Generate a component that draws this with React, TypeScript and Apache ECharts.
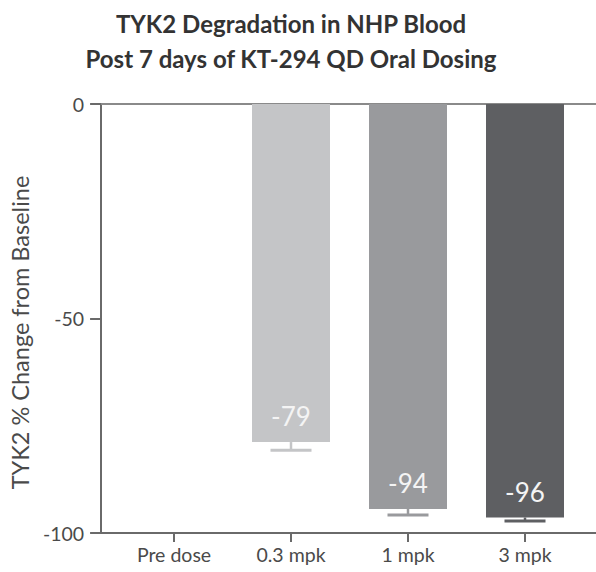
import React, { useEffect, useRef } from "react";
import * as echarts from "echarts";

const categories = ["Pre dose", "0.3 mpk", "1 mpk", "3 mpk"];
const meanChange = [null, -78.8, -94.4, -96.4];
const errorLow = [null, -80.7, -95.8, -97.2];
const barColors = ["#c4c5c7", "#c4c5c7", "#999a9d", "#5e5f62"];
const yTicks = [-100, -50, 0];

const FONT = "Lato, 'Open Sans', sans-serif";

export default function App() {
  const ref = useRef<HTMLDivElement>(null);
  useEffect(() => {
    document.body.style.margin = "0";
    const chart = echarts.init(ref.current!, null, { renderer: "svg" });
    const axisColor = "#6a6a6a";
    const errData = categories
      .map((c, i) => [i, meanChange[i], errorLow[i]])
      .filter((d) => d[1] !== null);
    chart.setOption({
      animation: false,
      backgroundColor: "#ffffff",
      title: {
        text: "TYK2 Degradation in NHP Blood\nPost 7 days of KT-294 QD Oral Dosing",
        left: 286,
        top: 1,
        textAlign: "center",
        textStyle: {
          fontFamily: FONT,
          fontWeight: "bold",
          fontSize: 24,
          lineHeight: 35,
          color: "#333333",
        },
      },
      grid: [
        { left: 97, right: 0, top: 104, bottom: 39 },
        { left: 115.5, right: 12.5, top: 104, bottom: 39 },
      ],
      xAxis: [
        {
          gridIndex: 0,
          type: "value",
          min: 0,
          max: 1,
          position: "bottom",
          axisLine: { show: true, onZero: false, lineStyle: { color: axisColor, width: 2 } },
          axisTick: { show: false },
          axisLabel: { show: false },
          splitLine: { show: false },
        },
        {
          gridIndex: 1,
          type: "category",
          data: categories,
          position: "bottom",
          axisLine: { show: false, onZero: false },
          axisTick: { show: true, alignWithLabel: true, length: 9, lineStyle: { color: axisColor, width: 2 } },
          axisLabel: { fontFamily: FONT, fontSize: 19.5, color: "#4a4a4a", margin: 11 },
        },
        {
          gridIndex: 0,
          type: "value",
          min: 0,
          max: 1,
          position: "top",
          axisLine: { show: true, onZero: false, lineStyle: { color: "#8a8a8a", width: 2 } },
          axisTick: { show: false },
          axisLabel: { show: false },
          splitLine: { show: false },
        },
      ],
      yAxis: [
        {
          gridIndex: 0,
          type: "value",
          min: yTicks[0],
          max: yTicks[yTicks.length - 1],
          interval: 50,
          name: "TYK2 % Change from Baseline",
          nameLocation: "middle",
          nameGap: 64,
          nameTextStyle: { fontFamily: FONT, fontSize: 23.5, color: "#4a4a4a", padding: [0, 28, 0, 0] },
          axisLine: { show: true, onZero: false, lineStyle: { color: axisColor, width: 2 } },
          axisTick: { show: true, length: 11, lineStyle: { color: axisColor, width: 2 } },
          axisLabel: { fontFamily: FONT, fontSize: 19.5, color: "#4a4a4a", margin: 17 },
          splitLine: { show: false },
        },
        {
          gridIndex: 1,
          type: "value",
          min: yTicks[0],
          max: yTicks[yTicks.length - 1],
          interval: 50,
          show: false,
        },
      ],
      series: [
        {
          type: "bar",
          xAxisIndex: 1,
          yAxisIndex: 1,
          barWidth: 78,
          data: meanChange.map((v, i) =>
            v === null ? "-" : { value: v, itemStyle: { color: barColors[i] } }
          ),
          label: {
            show: true,
            position: "insideBottom",
            distance: 13,
            fontFamily: FONT,
            fontSize: 26,
            color: "#f4f4f4",
            formatter: (p: any) => String(Math.round(p.value)),
          },
        },
        {
          type: "custom",
          xAxisIndex: 1,
          yAxisIndex: 1,
          data: errData,
          z: 1,
          renderItem: (params: any, api: any) => {
            const x = api.value(0);
            const top = api.coord([x, api.value(1)]);
            const bot = api.coord([x, api.value(2)]);
            const color = barColors[x];
            const half = 20.5;
            return {
              type: "group",
              children: [
                {
                  type: "line",
                  shape: { x1: top[0], y1: top[1], x2: bot[0], y2: bot[1] },
                  style: { stroke: color, lineWidth: 2.5 },
                },
                {
                  type: "line",
                  shape: { x1: bot[0] - half, y1: bot[1], x2: bot[0] + half, y2: bot[1] },
                  style: { stroke: color, lineWidth: 3 },
                },
              ],
            };
          },
        },
      ],
    });
    return () => chart.dispose();
  }, []);
  return (
    <div
      ref={ref}
      style={{ position: "absolute", left: 0, top: 0, width: 596, height: 572 }}
    />
  );
}
